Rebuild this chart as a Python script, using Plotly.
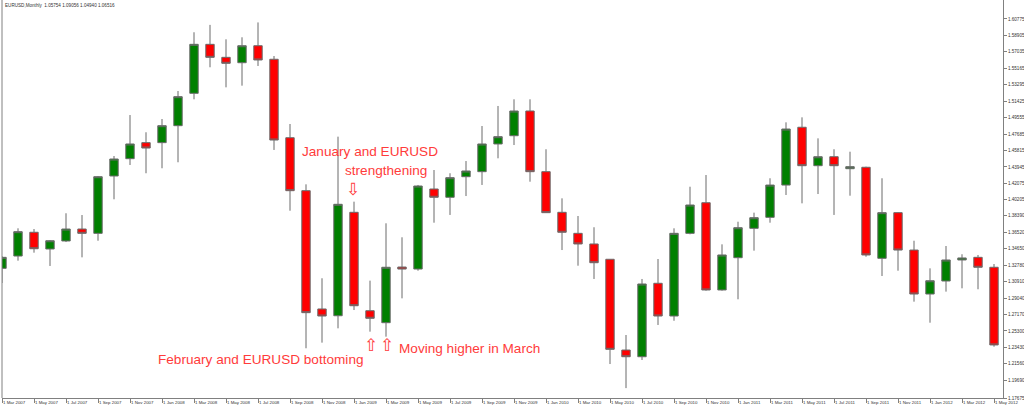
import plotly.graph_objects as go

# Monthly candles, Mar 2007 .. May 2012 (index 0..62)
opens = [1.3242, 1.3382, 1.3652, 1.3462, 1.3553, 1.3689, 1.3640, 1.4292, 1.4489, 1.4671,
         1.4671, 1.4864, 1.5232, 1.5789, 1.5641, 1.5580, 1.5773, 1.5619, 1.4727, 1.4125,
         1.2780, 1.2703, 1.3879, 1.2760, 1.2624, 1.3257, 1.3234, 1.4144, 1.4050, 1.4284,
         1.4341, 1.4656, 1.4750, 1.5031, 1.4341, 1.3879, 1.3640, 1.3519, 1.3345, 1.2313,
         1.2237, 1.3072, 1.2700, 1.3640, 1.3988, 1.2996, 1.3363, 1.3697, 1.3822, 1.4189,
         1.4846, 1.4409, 1.4511, 1.4375, 1.4391, 1.3356, 1.3875, 1.3450, 1.2950, 1.3098,
         1.3337, 1.3367, 1.3254]
highs = [1.3380, 1.3697, 1.3689, 1.3564, 1.3868, 1.3848, 1.4292, 1.4519, 1.4985, 1.4789,
         1.4940, 1.5258, 1.5926, 1.6010, 1.5846, 1.5869, 1.6038, 1.5656, 1.4883, 1.4197,
         1.3129, 1.4739, 1.4000, 1.3102, 1.3754, 1.3595, 1.4190, 1.4360, 1.4323, 1.4462,
         1.4860, 1.5088, 1.5164, 1.5164, 1.4596, 1.4038, 1.3837, 1.3709, 1.3345, 1.2484,
         1.3121, 1.3348, 1.3697, 1.4170, 1.4303, 1.3515, 1.3772, 1.3875, 1.4266, 1.4902,
         1.4959, 1.4720, 1.4596, 1.4568, 1.4398, 1.4266, 1.3879, 1.3556, 1.3242, 1.3496,
         1.3402, 1.3394, 1.3291]
lows = [1.3075, 1.3329, 1.3420, 1.3269, 1.3541, 1.3367, 1.3556, 1.4027, 1.4417, 1.4323,
        1.4380, 1.4448, 1.5164, 1.5528, 1.5300, 1.5319, 1.5543, 1.4588, 1.3897, 1.2333,
        1.2397, 1.2560, 1.2768, 1.2522, 1.2465, 1.2901, 1.3215, 1.3761, 1.3849, 1.4064,
        1.4190, 1.4493, 1.4644, 1.4227, 1.3875, 1.3450, 1.3272, 1.3121, 1.2154, 1.1880,
        1.2200, 1.2598, 1.2646, 1.3629, 1.2988, 1.2988, 1.2890, 1.3443, 1.3761, 1.4076,
        1.3981, 1.4087, 1.3849, 1.4068, 1.3374, 1.3155, 1.3215, 1.2863, 1.2624, 1.2977,
        1.3015, 1.3004, 1.2351]
closes = [1.3367, 1.3659, 1.3465, 1.3556, 1.3689, 1.3640, 1.4284, 1.4485, 1.4656, 1.4610,
          1.4864, 1.5194, 1.5789, 1.5641, 1.5573, 1.5773, 1.5611, 1.4701, 1.4125, 1.2738,
          1.2700, 1.3970, 1.2817, 1.2674, 1.3254, 1.3234, 1.4178, 1.4050, 1.4273, 1.4349,
          1.4656, 1.4739, 1.5031, 1.4341, 1.3875, 1.3652, 1.3519, 1.3306, 1.2321, 1.2237,
          1.3064, 1.2700, 1.3640, 1.3962, 1.2996, 1.3394, 1.3704, 1.3818, 1.4189, 1.4826,
          1.4409, 1.4511, 1.4409, 1.4398, 1.3394, 1.3875, 1.3450, 1.2950, 1.3101, 1.3337,
          1.3360, 1.3254, 1.2371]

x_tick_labels = ["1 Mar 2007", "1 May 2007", "1 Jul 2007", "1 Sep 2007", "1 Nov 2007",
                 "1 Jan 2008", "1 Mar 2008", "1 May 2008", "1 Jul 2008", "1 Sep 2008",
                 "1 Nov 2008", "1 Jan 2009", "1 Mar 2009", "1 May 2009", "1 Jul 2009",
                 "1 Sep 2009", "1 Nov 2009", "1 Jan 2010", "1 Mar 2010", "1 May 2010",
                 "1 Jul 2010", "1 Sep 2010", "1 Nov 2010", "1 Jan 2011", "1 Mar 2011",
                 "1 May 2011", "1 Jul 2011", "1 Sep 2011", "1 Nov 2011", "1 Jan 2012",
                 "1 Mar 2012", "1 May 2012"]
y_tick_values = [1.60775, 1.58905, 1.57035, 1.55165, 1.53295, 1.51425, 1.49555, 1.47685,
                 1.45815, 1.43945, 1.42075, 1.40205, 1.38390, 1.36520, 1.34650, 1.32780,
                 1.30910, 1.29040, 1.27170, 1.25300, 1.23430, 1.21560, 1.19690, 1.17675]
y_tick_labels = ["%.5f" % v for v in y_tick_values]

header = "EURUSD,Monthly  1.05754 1.09056 1.04940 1.06516"

x_idx = list(range(len(opens)))
x_tick_idx = list(range(0, len(opens), 2))

fig = go.Figure()
fig.add_trace(go.Candlestick(
    x=x_idx, open=opens, high=highs, low=lows, close=closes,
    increasing=dict(fillcolor="#008000", line=dict(color="#6a6a6a", width=1)),
    decreasing=dict(fillcolor="#ff0000", line=dict(color="#6a6a6a", width=1)),
    whiskerwidth=0, hoverinfo="skip", showlegend=False,
))

RED = "#ff3b3b"
FONT = "Liberation Sans, Arial, sans-serif"
ARROWFONT = "DejaVu Sans, sans-serif"
ann = []
ann.append(dict(x=23.0, y=1.4576, text="January and EURUSD", xanchor="center", yanchor="middle", size=13.6))
ann.append(dict(x=24.0, y=1.4360, text="strengthening", xanchor="center", yanchor="middle", size=13.6))
ann.append(dict(x=21.94, y=1.4144, text="⇩", xanchor="center", yanchor="middle", size=17, arrow=True))
ann.append(dict(x=23.06, y=1.2375, text="⇧", xanchor="center", yanchor="middle", size=17, arrow=True))
ann.append(dict(x=24.06, y=1.2375, text="⇧", xanchor="center", yanchor="middle", size=17, arrow=True))
ann.append(dict(x=24.69, y=1.2336, text="Moving higher in March", xanchor="left", yanchor="middle", size=13.6))
ann.append(dict(x=9.625, y=1.2200, text="February and EURUSD bottoming", xanchor="left", yanchor="middle", size=13.6))
annotations = []
for a in ann:
    size = a.pop("size")
    fam = ARROWFONT if a.pop("arrow", False) else FONT
    a.update(xref="x", yref="y", showarrow=False, font=dict(family=fam, size=size, color=RED))
    annotations.append(a)
annotations.append(dict(xref="paper", yref="paper", x=0.001, y=1, xanchor="left", yanchor="top",
                        yshift=-1, text=header, showarrow=False,
                        font=dict(family=FONT, size=4.6, color="#333333")))

fig.update_layout(
    width=1024, height=408,
    margin=dict(l=2, r=21, t=0, b=10),
    paper_bgcolor="white", plot_bgcolor="white",
    boxgap=0.25,
    annotations=annotations,
    shapes=[dict(type="line", xref="paper", yref="paper", x0=0, x1=0, y0=0, y1=1,
                 line=dict(color="#808080", width=1))],
    xaxis=dict(range=[0, 1001 / 16], tickmode="array", tickvals=x_tick_idx, ticktext=x_tick_labels,
               showgrid=False, zeroline=False, showline=True, linecolor="#808080", linewidth=1,
               ticks="outside", ticklen=4, tickcolor="#808080", ticklabelposition="outside right",
               tickangle=0, automargin=False,
               tickfont=dict(family=FONT, size=4.4, color="#333333"),
               rangeslider=dict(visible=False), fixedrange=True),
    yaxis=dict(range=[1.17677, 1.6293], side="right", tickmode="array", tickvals=y_tick_values,
               ticktext=y_tick_labels, showgrid=False, zeroline=False, showline=True,
               linecolor="#808080", linewidth=1, ticks="outside", ticklen=3, tickcolor="#808080",
               automargin=False,
               tickfont=dict(family=FONT, size=4.6, color="#333333"), fixedrange=True),
)

fig.write_html("out.html", config={"displayModeBar": False},
               post_script="document.body.style.margin='0';document.body.style.padding='0';")
